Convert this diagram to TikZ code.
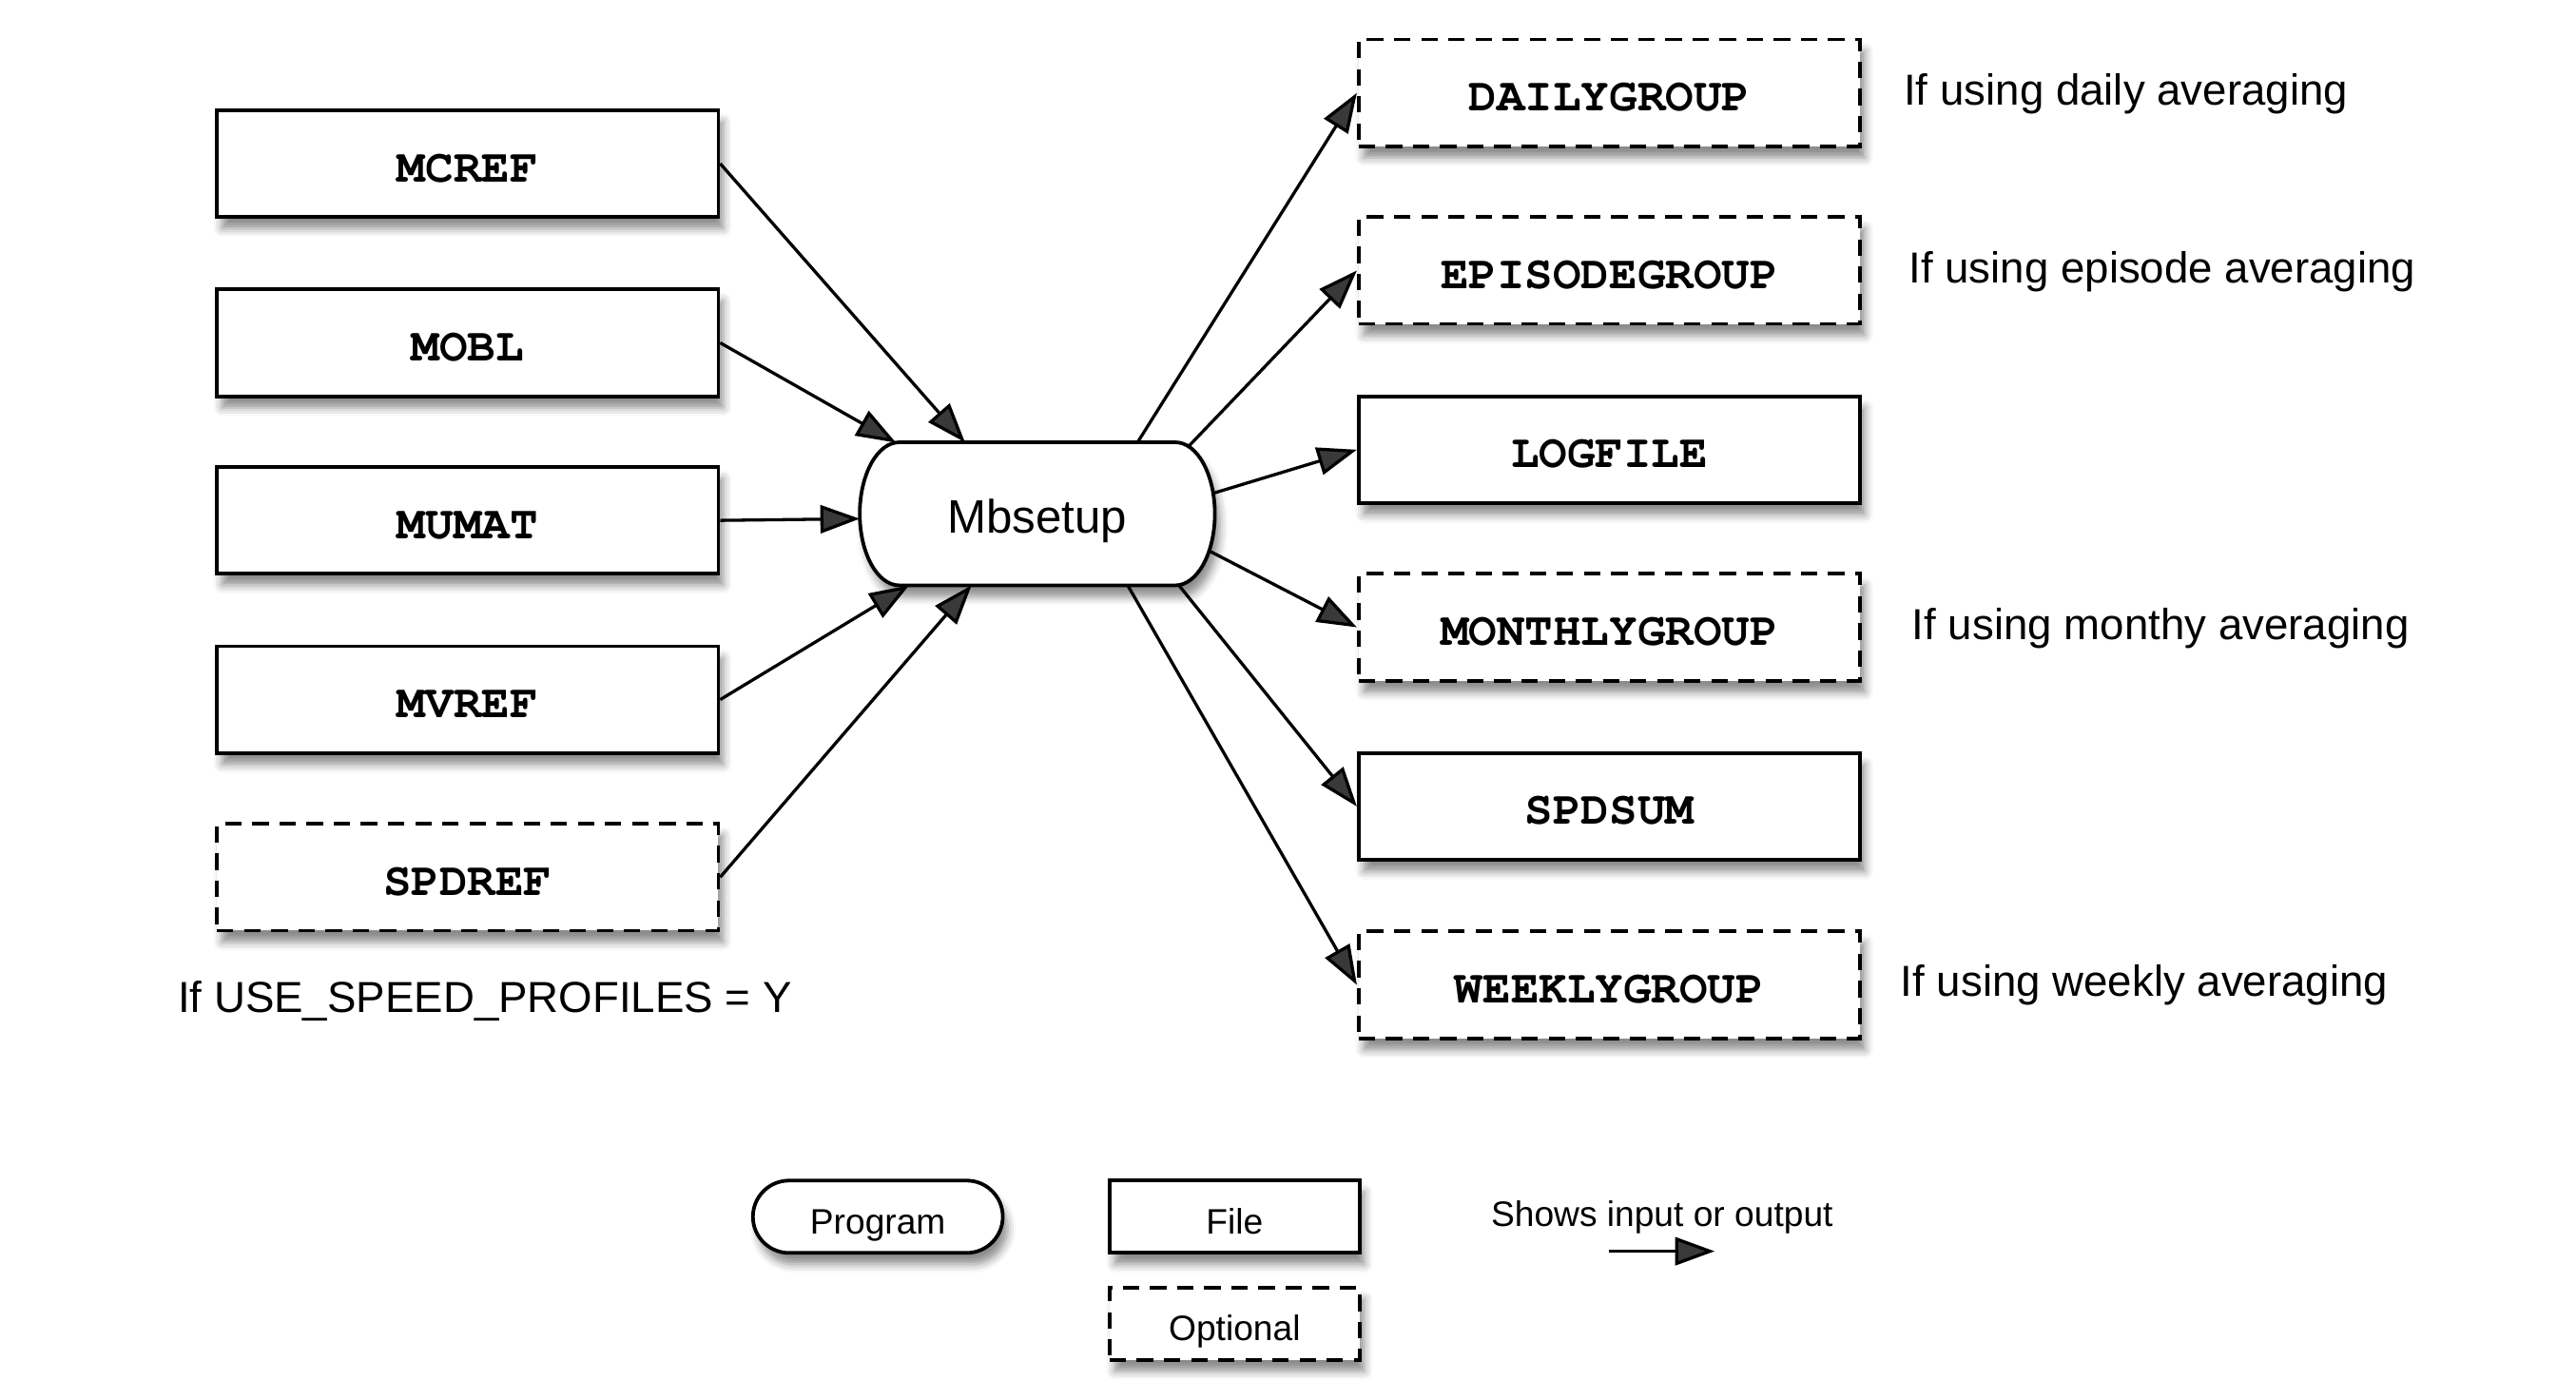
\documentclass[tikz,border=0pt]{standalone}
\usepackage{fontspec}
\setmainfont{Liberation Sans}
\newfontfamily\monof{texgyrecursor}[Extension=.otf,UprightFont=*-regular,BoldFont=*-bold]
\usetikzlibrary{shapes.misc,arrows.meta,shadows.blur,calc}
\begin{document}
\begin{tikzpicture}[x=1pt,y=-1pt,
  shd/.style={blur shadow={shadow xshift=3pt,shadow yshift=-7pt,shadow blur radius=5pt,shadow opacity=45}},
  box/.style={draw,line width=2.2pt,minimum width=305pt,minimum height=65pt,inner sep=0pt,fill=white,
    text height=22pt,text depth=0pt,
    font=\monof\bfseries\fontsize{28.5}{30}\selectfont,shd},
  opt/.style={dash pattern=on 10pt off 6.5pt},
  lbox/.style={draw,line width=2.2pt,minimum width=152pt,minimum height=44pt,inner sep=0pt,fill=white,
    text height=20.5pt,text depth=0pt,
    font=\fontsize{21.5}{24}\selectfont,shd},
  note/.style={anchor=base west,inner sep=0pt,font=\fontsize{26.4}{28}\selectfont},
  arr/.style={line width=1.9pt,-{Triangle[length=24pt,width=17pt]}}
]
\useasboundingbox (0,0) rectangle (1567,851);

% inputs
\node[box] (mcref) at (284.5,99.5) {MCREF};
\node[box] (mobl) at (284.5,208.5) {MOBL};
\node[box] (mumat) at (284.5,316.5) {MUMAT};
\node[box] (mvref) at (284.5,425.5) {MVREF};
\node[box,opt] (spdref) at (284.5,533.5) {SPDREF};
\node[note] (spdnote) at (108,616) {If USE\_SPEED\_PROFILES = Y};

% program (custom outline with elliptical ends)
\path[draw,line width=2.2pt,fill=white,shd]
  (547,269) -- (715,269)
  arc[start angle=90,end angle=-90,x radius=24pt,y radius=43.5pt]
  -- (547,356)
  arc[start angle=270,end angle=90,x radius=24pt,y radius=43.5pt] -- cycle;
\node[inner sep=0pt,minimum width=216pt,minimum height=87pt,text height=21.4pt,text depth=0pt,
  font=\fontsize{28.5}{30}\selectfont] (mb) at (631,313.5) {Mbsetup};

% border points of the program shape
\coordinate (mbi1) at ($(mb.center)+(-44,-44.5)$);
\coordinate (mbi2) at ($(mb.center)+(-86,-44.3)$);
\coordinate (mbi3) at ($(mb.center)+(-108,2)$);
\coordinate (mbi4) at ($(mb.center)+(-78,42.5)$);
\coordinate (mbi5) at ($(mb.center)+(-40,42.5)$);
\coordinate (mbo1) at ($(mb.center)+(61,-44.5)$);
\coordinate (mbo2) at ($(mb.center)+(92,-42)$);
\coordinate (mbo3) at ($(mb.center)+(107,-13.5)$);
\coordinate (mbo4) at ($(mb.center)+(104.5,21.5)$);
\coordinate (mbo5) at ($(mb.center)+(86,42.3)$);
\coordinate (mbo6) at ($(mb.center)+(55,42.5)$);

% outputs
\node[box,opt] (daily) at (979,56.5) {DAILYGROUP};
\node[box,opt] (episode) at (979,164.5) {EPISODEGROUP};
\node[box] (logfile) at (979,273.5) {LOGFILE};
\node[box,opt] (monthly) at (979,381.5) {MONTHLYGROUP};
\node[box] (spdsum) at (979,490.5) {SPDSUM};
\node[box,opt] (weekly) at (979,599) {WEEKLYGROUP};

\node[note] (n1) at (1158,64) {If using daily averaging};
\node[note] (n2) at (1161,172) {If using episode averaging};
\node[note] (n3) at (1163,389) {If using monthy averaging};
\node[note] (n4) at (1156,606) {If using weekly averaging};

% input arrows
\draw[arr] (mcref.east) -- (mbi1);
\draw[arr] (mobl.east) -- (mbi2);
\draw[arr] (mumat.east) -- (mbi3);
\draw[arr] (mvref.east) -- (mbi4);
\draw[arr] (spdref.east) -- (mbi5);

% output arrows
\draw[arr] (mbo1) -- (daily.west);
\draw[arr] (mbo2) -- (episode.west);
\draw[arr] (mbo3) -- (logfile.west);
\draw[arr] (mbo4) -- (monthly.west);
\draw[arr] (mbo5) -- (spdsum.west);
\draw[arr] (mbo6) -- (weekly.west);

% legend
\node[lbox,rounded rectangle,rounded rectangle arc length=180] (lprog) at (534,740) {Program};
\node[lbox] (lfile) at (751,740) {File};
\node[lbox,opt] (lopt) at (751,805) {Optional};
\node[anchor=base,inner sep=0pt,font=\fontsize{21.5}{24}\selectfont] (lshow) at (1011,746) {Shows input or output};
\coordinate (la) at (979,761);
\coordinate (lb) at (1043,761);
\draw[arr] (la) -- (lb);
\end{tikzpicture}
\end{document}
